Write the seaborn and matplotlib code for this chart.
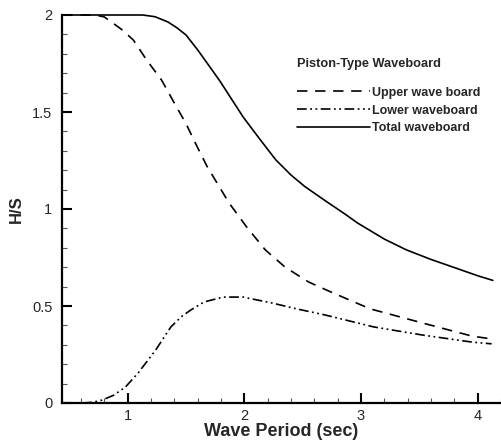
import matplotlib
matplotlib.use("Agg")
import matplotlib.pyplot as plt
import pandas as pd
import seaborn as sns

# values
total_x = [0.44, 1.0, 1.13, 1.235, 1.345, 1.42, 1.50, 1.60, 1.68, 1.79, 1.99, 2.13,
           2.27, 2.40, 2.52, 2.70, 2.86, 2.97, 3.20, 3.39, 3.60, 3.81, 4.00, 4.13]
total_y = [2.0, 2.0, 2.0, 1.991, 1.964, 1.935, 1.897, 1.82, 1.753, 1.66, 1.474, 1.362,
           1.253, 1.175, 1.115, 1.04, 0.975, 0.928, 0.845, 0.789, 0.74, 0.696, 0.656, 0.632]

upper_x = [0.44, 0.72, 0.80, 0.87, 0.96, 1.05, 1.16, 1.29, 1.40, 1.50, 1.58, 1.68,
           1.87, 2.02, 2.18, 2.35, 2.55, 2.75, 3.08, 3.53, 3.95, 4.12]
upper_y = [2.0, 2.0, 1.99, 1.96, 1.92, 1.87, 1.77, 1.665, 1.546, 1.44, 1.34, 1.22,
           1.03, 0.907, 0.789, 0.70, 0.624, 0.57, 0.485, 0.412, 0.345, 0.33]

lower_x = [0.61, 0.70, 0.78, 0.88, 0.98, 1.09, 1.24, 1.37, 1.46, 1.54, 1.655, 1.82,
           1.99, 2.24, 2.45, 2.69, 3.11, 3.53, 3.95, 4.12]
lower_y = [0.0, 0.004, 0.015, 0.04, 0.082, 0.155, 0.273, 0.392, 0.445, 0.479, 0.521, 0.546,
           0.546, 0.515, 0.485, 0.454, 0.392, 0.35, 0.314, 0.305]

labels = ["Upper wave board", "Lower waveboard", "Total waveboard"]
legend_title = "Piston-Type Waveboard"

sns.set_style("ticks")
plt.rcParams['font.family'] = ['Liberation Sans', 'DejaVu Sans']
plt.rcParams['lines.scale_dashes'] = False

fig = plt.figure(figsize=(5.01, 4.42), dpi=100)
ax = fig.add_axes([62 / 501, 39 / 442, 1 - 62 / 501, 388 / 442])

upper = pd.DataFrame({"T": upper_x, "HS": upper_y})
lower = pd.DataFrame({"T": lower_x, "HS": lower_y})
total = pd.DataFrame({"T": total_x, "HS": total_y})

sns.lineplot(data=upper, x="T", y="HS", ax=ax, color="black", lw=1.2,
             linestyle=(0, (7.5, 5.5)), label=labels[0], clip_on=False)
sns.lineplot(data=lower, x="T", y="HS", ax=ax, color="black", lw=1.2,
             linestyle=(0, (7, 2.5, 1.3, 2.5, 1.3, 2.5)), label=labels[1], clip_on=False)
sns.lineplot(data=total, x="T", y="HS", ax=ax, color="black", lw=1.2,
             linestyle="-", label=labels[2], clip_on=False)

ax.set_xlim(0.437, 4.126)
ax.set_ylim(0, 2)
ax.set_xticks([1, 2, 3, 4])
ax.set_xticks([0.6, 0.8, 1.2, 1.4, 1.6, 1.8, 2.2, 2.4, 2.6, 2.8,
               3.2, 3.4, 3.6, 3.8, 4.2], minor=True)
ax.set_yticks([0, 0.5, 1, 1.5, 2])
ax.set_yticklabels(["0", "0.5", "1", "1.5", "2"])
ax.set_yticks([0.1, 0.2, 0.3, 0.4, 0.6, 0.7, 0.8, 0.9,
               1.1, 1.2, 1.3, 1.4, 1.6, 1.7, 1.8, 1.9], minor=True)

ax.tick_params(which="major", direction="in", length=7.5, width=1.5,
               labelsize=10.5, color="black")
ax.tick_params(axis="y", which="major", pad=7)
ax.tick_params(axis="x", which="major", pad=4)
ax.tick_params(which="minor", direction="in", length=3.8, width=0.8, color="#555555")

for side in ["top", "right"]:
    ax.spines[side].set_visible(False)
for side in ["left", "bottom"]:
    ax.spines[side].set_linewidth(1.6)
    ax.spines[side].set_color("black")

ax.set_xlabel("Wave Period (sec)", fontsize=13, fontweight="bold", labelpad=0)
ax.set_ylabel("H/S", fontsize=12, fontweight="bold", labelpad=6)

leg = ax.legend(title=legend_title, loc="upper left",
                bbox_to_anchor=(297 / 501, 1 - 58 / 442), bbox_transform=fig.transFigure,
                frameon=False, handlelength=5.85, handletextpad=0.15, labelspacing=0.47,
                borderpad=0, borderaxespad=0, alignment="left",
                prop={"size": 9, "weight": "bold"},
                title_fontproperties={"size": 9.2, "weight": "bold"})
leg._legend_box.sep = 12

fig.savefig("out.png", dpi=100)
